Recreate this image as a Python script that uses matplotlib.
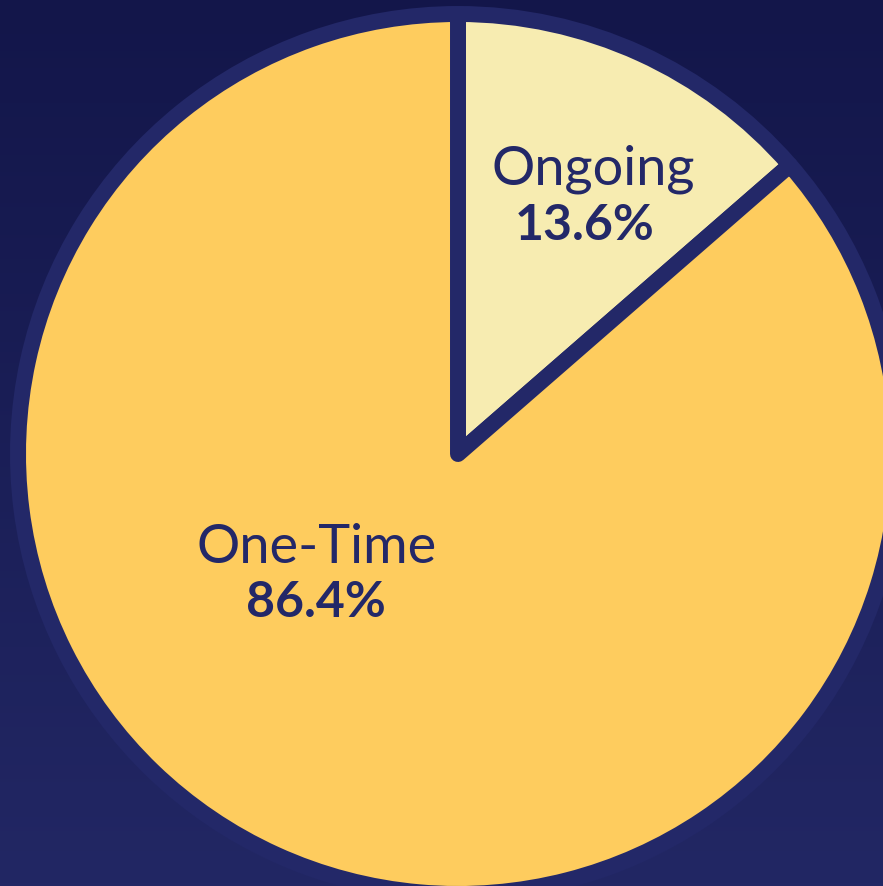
import matplotlib
matplotlib.use("Agg")
import matplotlib.pyplot as plt
import numpy as np
from matplotlib.colors import LinearSegmentedColormap

categories = ["Ongoing", "One-Time"]
values = [13.6, 86.4]
value_labels = ["13.6%", "86.4%"]
colors = ["#F7ECB1", "#FECC5E"]

W, H = 883, 887
fig = plt.figure(figsize=(W / 100, H / 100), dpi=100)
ax = fig.add_axes([0, 0, 1, 1])

# background gradient
cmap = LinearSegmentedColormap.from_list("bg", ["#222764", "#13164A"])
grad = np.linspace(0, 1, 256).reshape(-1, 1)
ax.imshow(grad, cmap=cmap, extent=[0, W, 0, H], origin="lower", aspect="auto", zorder=0)

navy = "#232868"
cx, cy, R = 458, 887 - 455, 440
wedges, _ = ax.pie(values, colors=colors, startangle=90, counterclock=False,
                   center=(cx, cy), radius=R, frame=True,
                   wedgeprops=dict(edgecolor=navy, linewidth=11.5, joinstyle="round"))
for w in wedges:
    w.set_zorder(2)
ax.set_xlim(0, W)
ax.set_ylim(0, H)
ax.set_aspect("equal")
ax.axis("off")

font = ["Lato", "DejaVu Sans"]
name_pos = [(593, 887 - 184), (317, 887 - 563)]
pct_pos = [(585, 887 - 240), (316, 887 - 617)]
for (x, y), (px, py), cat, lab in zip(name_pos, pct_pos, categories, value_labels):
    ax.text(x, y, cat, ha="center", va="baseline", fontsize=39, color=navy,
            family=font, fontweight="normal", zorder=3)
    ax.text(px, py, lab, ha="center", va="baseline", fontsize=36, color=navy,
            family=font, fontweight="bold", zorder=3)

fig.savefig("out.png", dpi=100)
